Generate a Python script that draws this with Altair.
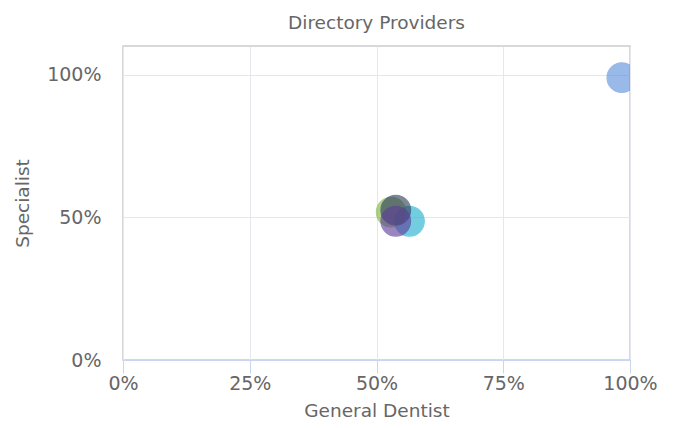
import altair as alt
import pandas as pd

providers = ["Group A", "Group B", "Group C", "Group D", "Group E"]
general_dentist = [0.984, 0.565, 0.529, 0.538, 0.538]
specialist = [0.989, 0.486, 0.518, 0.525, 0.486]
colors = ["#5b8fdb", "#1fb0d0", "#7cb342", "#2f3e5c", "#5e3c99"]

df = pd.DataFrame({
    "provider": providers,
    "general": general_dentist,
    "specialist": specialist,
    "order": list(range(len(providers))),
})

chart = alt.Chart(df).mark_circle(
    size=880, opacity=0.62, strokeWidth=1.2, strokeOpacity=1, clip=True
).encode(
    x=alt.X("general:Q", title="General Dentist",
            scale=alt.Scale(domain=[0, 1], nice=False),
            axis=alt.Axis(format="%", values=[0, 0.25, 0.5, 0.75, 1],
                          domainColor="#c9d6ee", tickColor="#c9d6ee",
                          gridColor="#e6e6ee", tickSize=13, labelPadding=1,
                          labelFlush=False, titlePadding=8)),
    y=alt.Y("specialist:Q", title="Specialist",
            scale=alt.Scale(domain=[0, 1.1], nice=False),
            axis=alt.Axis(format="%", values=[0, 0.5, 1], ticks=False, domain=False,
                          gridColor="#e6e6ee", labelPadding=22, titlePadding=14,
                          labelFlush=False)),
    color=alt.Color("provider:N", scale=alt.Scale(domain=providers, range=colors), legend=None),
    stroke=alt.Stroke("provider:N", scale=alt.Scale(domain=providers, range=colors), legend=None),
    order="order:Q",
).properties(
    width=507, height=314,
    title=alt.Title("Directory Providers", fontSize=18.5, fontWeight="normal", color="#666666", offset=14),
).configure_view(
    stroke="#cccccc", strokeWidth=1.5
).configure_axis(
    labelFont="DejaVu Sans", titleFont="DejaVu Sans", labelFontSize=19, titleFontSize=18.5,
    labelColor="#666666", titleColor="#666666", titleFontWeight="normal",
).configure_title(font="DejaVu Sans")

chart.save("out.html", embed_options={"renderer": "svg", "actions": False})
